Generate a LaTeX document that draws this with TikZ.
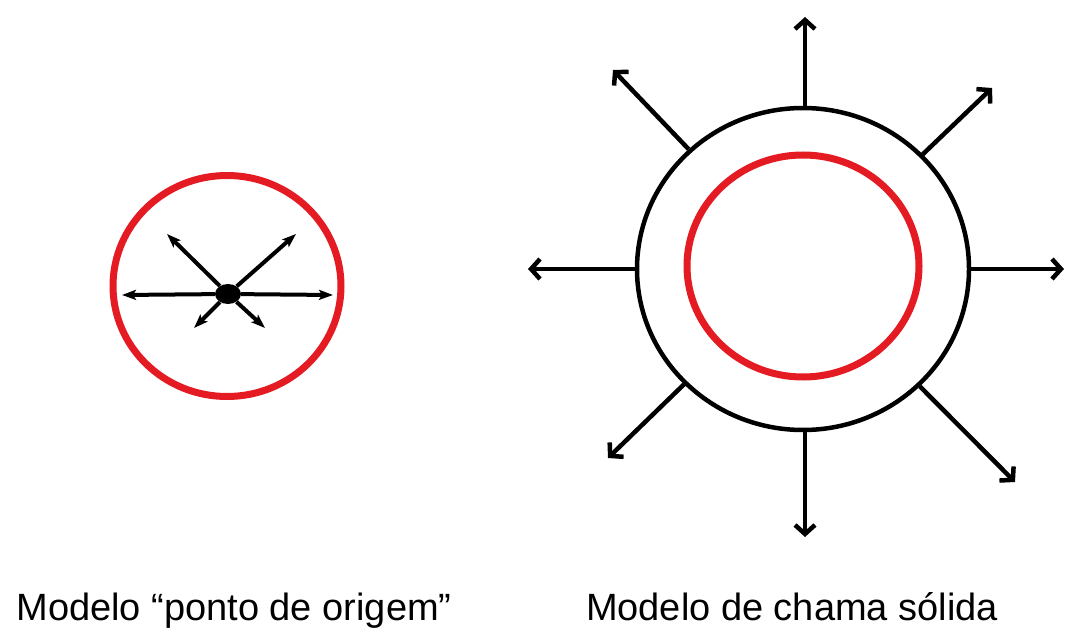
\documentclass[tikz,border=0pt]{standalone}
\usepackage{fontspec}
\setmainfont{Liberation Sans}
\usetikzlibrary{arrows.meta,shapes.geometric}
\definecolor{myred}{RGB}{228,27,35}
\tikzset{
  redring/.style={draw=myred, line width=7, ellipse, inner sep=0pt},
  blackring/.style={draw=black, line width=4.5, ellipse, inner sep=0pt},
  smallarrow/.style={line width=4, -{Stealth[length=14, width=10, inset=3]}},
  bigarrow/.style={line width=4.5, -{Straight Barb[length=9, width=20]}},
  caption/.style={anchor=base, inner sep=0pt, font=\fontsize{38}{44}\selectfont},
}
\begin{document}
\begin{tikzpicture}[x=1pt, y=-1pt]
\useasboundingbox[fill=white] (0,0) rectangle (1065,628);

% Left: point-source model
\node[redring, minimum width=228, minimum height=221] (lcirc) at (227,286) {};
\node[ellipse, fill=black, minimum width=26, minimum height=20, inner sep=0pt] (dot) at (228,294) {};
\coordinate (lw) at (122,295);
\coordinate (le) at (333,295);
\coordinate (lnw) at (167,234);
\coordinate (lne) at (296,234);
\coordinate (lsw) at (194,328);
\coordinate (lse) at (265,328);
\draw[smallarrow] (dot) -- (lw);
\draw[smallarrow] (dot) -- (le);
\draw[smallarrow] (dot) -- (lnw);
\draw[smallarrow] (dot) -- (lne);
\draw[smallarrow] (dot) -- (lsw);
\draw[smallarrow] (dot) -- (lse);

% Right: solid flame model
\node[blackring, minimum width=332, minimum height=322] (outer) at (803,269) {};
\node[redring, minimum width=232, minimum height=222] (inner) at (803,266) {};
\coordinate (rn) at (805,17);
\coordinate (rnw) at (613,70);
\coordinate (rne) at (992,88);
\coordinate (rw) at (528,269);
\coordinate (re) at (1064,269);
\coordinate (rsw) at (608,458);
\coordinate (rs) at (805,537);
\coordinate (rse) at (1015,482);
\draw[bigarrow] (outer.north -| rn) -- (rn);
\draw[bigarrow] (outer) -- (rnw);
\draw[bigarrow] (outer) -- (rne);
\draw[bigarrow] (outer.west) -- (rw);
\draw[bigarrow] (outer.east) -- (re);
\draw[bigarrow] (outer) -- (rsw);
\draw[bigarrow] (outer.south -| rs) -- (rs);
\draw[bigarrow] (outer) -- (rse);

% Captions
\node[caption] (capl) at (234,620) {Modelo “ponto de origem”};
\node[caption] (capr) at (792,620) {Modelo de chama sólida};
\end{tikzpicture}
\end{document}
